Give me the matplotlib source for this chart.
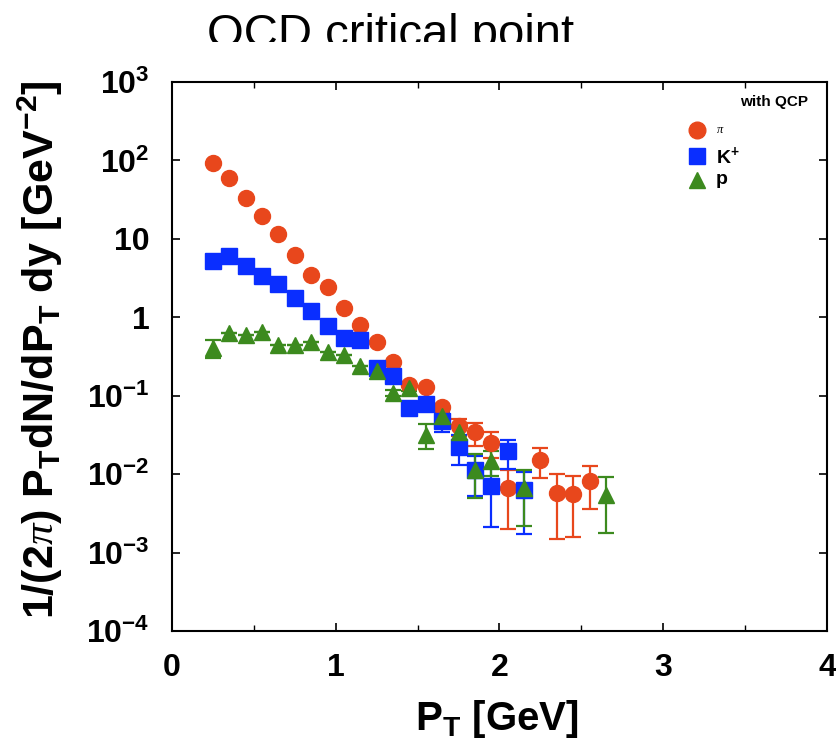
import matplotlib
matplotlib.use("Agg")
import matplotlib.pyplot as plt
from matplotlib.patches import Rectangle
import numpy as np

plt.rcParams['font.family'] = ['Liberation Sans', 'DejaVu Sans']
plt.rcParams['mathtext.fontset'] = 'custom'
plt.rcParams['mathtext.rm'] = 'Liberation Sans:bold'
plt.rcParams['mathtext.it'] = 'Liberation Sans:bold'
plt.rcParams['mathtext.bf'] = 'Liberation Sans:bold'
plt.rcParams['mathtext.sf'] = 'Liberation Serif:italic'

# ---------------- data ----------------
pi_pt = [0.25, 0.35, 0.45, 0.55, 0.65, 0.75, 0.85, 0.95, 1.05, 1.15, 1.25, 1.35,
         1.45, 1.55, 1.65, 1.75, 1.85, 1.95, 2.05, 2.25, 2.35, 2.45, 2.55]
pi_y = [94, 59, 33, 19.3, 11.5, 6.2, 3.5, 2.4, 1.31, 0.79, 0.49, 0.27,
        0.135, 0.13, 0.072, 0.041, 0.034, 0.025, 0.0067, 0.0153, 0.0058, 0.0056, 0.0081]
pi_err = [0, 0, 0, 0, 0, 0, 0, 0, 0, 0, 0, 0,
          0.004, 0.004, 0.006, 0.010, 0.011, 0.009, 0.0047, 0.0065, 0.0043, 0.0040, 0.0045]

k_pt = [0.25, 0.35, 0.45, 0.55, 0.65, 0.75, 0.85, 0.95, 1.05, 1.15, 1.25, 1.35,
        1.45, 1.55, 1.65, 1.75, 1.85, 1.95, 2.05, 2.15]
k_y = [5.2, 6.0, 4.5, 3.36, 2.63, 1.78, 1.2, 0.77, 0.54, 0.52, 0.227, 0.177,
       0.070, 0.079, 0.047, 0.0222, 0.0112, 0.0071, 0.0195, 0.0062]
k_err = [0, 0, 0, 0, 0, 0, 0, 0, 0, 0, 0, 0,
         0.006, 0.006, 0.013, 0.009, 0.006, 0.005, 0.008, 0.0045]

p_pt = [0.25, 0.35, 0.45, 0.55, 0.65, 0.75, 0.85, 0.95, 1.05, 1.15, 1.25, 1.35,
        1.45, 1.55, 1.65, 1.75, 1.85, 1.95, 2.15, 2.65]
p_y = [0.407, 0.632, 0.601, 0.644, 0.449, 0.449, 0.480, 0.358, 0.334, 0.237, 0.205, 0.109,
       0.126, 0.032, 0.055, 0.034, 0.0114, 0.0146, 0.0067, 0.0055]
p_err = [0.10, 0, 0, 0, 0, 0, 0, 0, 0, 0, 0, 0.01,
         0.01, 0.011, 0.008, 0.008, 0.0065, 0.005, 0.0045, 0.0037]

xticks = [0, 1, 2, 3, 4]
yticks = [1e3, 1e2, 1e1, 1, 1e-1, 1e-2, 1e-3, 1e-4]
ytick_labels = [r'$10^{3}$', r'$10^{2}$', '10', '1', r'$10^{-1}$', r'$10^{-2}$',
                r'$10^{-3}$', r'$10^{-4}$']

c_pi = '#E8471C'
c_k = '#0A2EFF'
c_p = '#3C8A1E'

# ---------------- figure ----------------
W, H = 836, 739
fig = plt.figure(figsize=(W / 100, H / 100), dpi=100)
ax = fig.add_axes([172 / W, 1 - 631 / H, (827 - 172) / W, (631 - 82) / H])

common = dict(ls='none', elinewidth=1.6, capsize=6, capthick=1.6)
ax.errorbar(pi_pt, pi_y, yerr=pi_err, fmt='o', color=c_pi, ms=11.5, mec=c_pi, **common)
ax.errorbar(k_pt, k_y, yerr=k_err, fmt='s', color=c_k, ms=12, mec=c_k, **common)
ax.errorbar(p_pt, p_y, yerr=p_err, fmt='^', color=c_p, ms=11.5, mec=c_p, **common)

ax.set_yscale('log')
ax.set_xlim(0, 4)
ax.set_ylim(1e-4, 1e3)
ax.set_xticks(xticks)
ax.set_xticklabels([str(v) for v in xticks], fontweight='bold')
ax.set_xticks([0.5, 1.5, 2.5, 3.5], minor=True)
ax.set_yticks(yticks)
ax.set_yticklabels(ytick_labels, fontweight='bold')
ax.yaxis.set_minor_locator(matplotlib.ticker.NullLocator())
ax.tick_params(axis='both', which='major', direction='in', length=6, width=1.2,
               top=True, right=True, labelsize=23)
ax.tick_params(axis='x', which='major', pad=16)
ax.tick_params(axis='y', which='major', pad=16)
ax.tick_params(axis='x', which='minor', direction='in', length=4, width=1.0,
               top=True, bottom=True)
for s in ax.spines.values():
    s.set_linewidth(1.5)

# legend (manual)
ax.text(0.971, 0.9636, 'with QCP', transform=ax.transAxes, ha='right', va='center',
        fontsize=11, fontweight='bold')
ax.plot([0.8015], [0.9126], 'o', color=c_pi, ms=12, transform=ax.transAxes, clip_on=False)
ax.plot([0.8015], [0.8652], 's', color=c_k, ms=12, transform=ax.transAxes, clip_on=False)
ax.plot([0.8015], [0.8215], '^', color=c_p, ms=12, transform=ax.transAxes, clip_on=False)
ax.text(0.8305, 0.9126, r'$\mathsf{\pi}$', transform=ax.transAxes, ha='left', va='center',
        fontsize=9)
ax.text(0.8305, 0.8652, r'K$^{+}$', transform=ax.transAxes, ha='left', va='center',
        fontsize=14, fontweight='bold')
ax.text(0.8305, 0.8215, 'p', transform=ax.transAxes, ha='left', va='center',
        fontsize=14, fontweight='bold')

# axis labels
fig.text(40 / W, 1 - 350 / H,
         r'1/(2$\mathsf{\pi}$) P$_{T}$dN/dP$_{T}$ dy [GeV$^{-2}$]',
         rotation=90, ha='center', va='center', fontsize=31, fontweight='bold')
fig.text(497 / W, 1 - 730 / H, r'P$_{T}$ [GeV]', ha='center', va='baseline',
         fontsize=29, fontweight='bold')

# title (clipped at the bottom like the reference)
fig.text(391 / W, 1 - 47 / H, 'QCD critical point', ha='center', va='baseline',
         fontsize=34)
fig.patches.append(Rectangle((0, 1 - 62 / H), 1, 20 / H, transform=fig.transFigure,
                             facecolor='white', edgecolor='none', zorder=10))

fig.savefig('out.png', dpi=100)
